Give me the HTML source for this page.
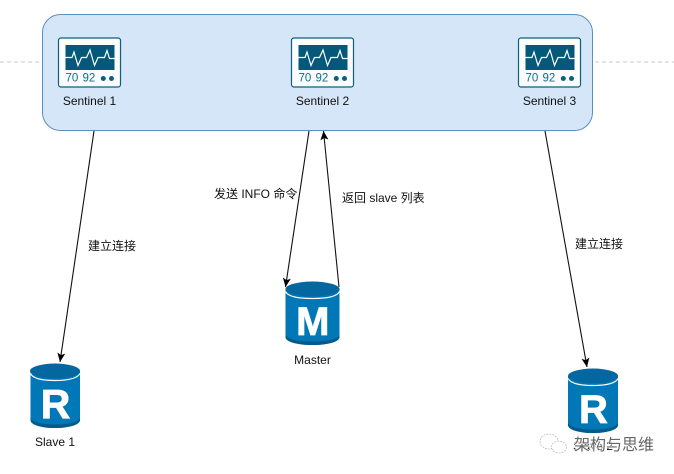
<!DOCTYPE html>
<html>
<head>
<meta charset="utf-8">
<style>
html,body{margin:0;padding:0;background:#fff;width:674px;height:474px;overflow:hidden}
svg{display:block}
text{font-family:"Liberation Sans","Noto Sans CJK SC",sans-serif;font-size:12px;fill:#111}
.n{font-size:11.5px;fill:#0e6f8e}
.c{text-anchor:middle}
.b{font-weight:bold;fill:#fff;stroke:#fff;stroke-width:.8px}
</style>
</head>
<body>
<svg width="674" height="474" viewBox="0 0 674 474" xmlns="http://www.w3.org/2000/svg">
<defs>
<marker id="a" markerWidth="11" markerHeight="10" refX="9" refY="4" orient="auto" markerUnits="userSpaceOnUse">
<path d="M0 0L9 4L0 8L2 4Z" fill="#000"/>
</marker>
<g id="mon">
<rect x="0" y="0" width="62" height="49" rx="2.5" fill="#fafcfd" stroke="#0b5f7f" stroke-width="1.2"/>
<rect x="7" y="7" width="49" height="25" fill="#04587a"/>
<path d="M7 19.500H13.500L15.500 14L19.500 27.500L23 19.500H28L31.500 12L36 27.500L39.500 19.500H46L48.500 12.500L51 20.500H56" fill="none" stroke="#fff" stroke-width="1.200"/>
<circle cx="44.800" cy="40.500" r="2.500" fill="#0b5f7f"/>
<circle cx="53" cy="40.500" r="2.500" fill="#0b5f7f"/>
</g>
</defs>

<path d="M0 62H41M595 62H674" stroke="#c8c8c8" stroke-dasharray="4 3" fill="none"/>
<rect x="42.500" y="14.500" width="550" height="116" rx="18" fill="#d4e6f8" stroke="#5b8fbe" stroke-width="1"/>

<use href="#mon" x="58.500" y="38"/>
<text class="n" x="65.500" y="81.500">70</text><text class="n" x="82.500" y="81.500">92</text>
<use href="#mon" x="291.500" y="38"/>
<text class="n" x="298.500" y="81.500">70</text><text class="n" x="315.500" y="81.500">92</text>
<use href="#mon" x="518.500" y="38"/>
<text class="n" x="525.500" y="81.500">70</text><text class="n" x="542.500" y="81.500">92</text>

<text class="c" x="89.500" y="105">Sentinel 1</text>
<text class="c" x="322.500" y="105">Sentinel 2</text>
<text class="c" x="549.500" y="105">Sentinel 3</text>

<g fill="none" stroke="#111" stroke-width="1.100">
<line x1="94" y1="131" x2="60" y2="362" marker-end="url(#a)"/>
<line x1="309" y1="131" x2="285.500" y2="287" marker-end="url(#a)"/>
<line x1="339" y1="287" x2="323.500" y2="131" marker-end="url(#a)"/>
<line x1="545" y1="131" x2="587" y2="367" marker-end="url(#a)"/>
</g>

<text x="88" y="250">建立连接</text>
<text x="214" y="198">发送 INFO 命令</text>
<text x="342" y="202">返回 slave 列表</text>
<text x="575" y="248">建立连接</text>

<!-- Slave 1 -->
<g>
<path d="M30.500 371V420C30.500 425 42 428 55 428C68 428 80 425 80 420V371Z" fill="#0077b6"/>
<path d="M30.500 417V420C30.500 425 42 428 55 428C68 428 80 425 80 420V417C80 422 68 424.500 55 424.500C42 424.500 30.500 422 30.500 417Z" fill="#045b8a"/>
<ellipse cx="55" cy="371" rx="25" ry="7.500" fill="#0567a0"/>
<path d="M30.500 373.500C33 379 44 380.500 55 380.500C66 380.500 77 379 80 373.500" fill="none" stroke="#fff" stroke-width="1.200"/>
<text class="c b" x="55.500" y="418" style="font-size:41px">R</text>
</g>
<text class="c" x="55" y="446">Slave 1</text>

<!-- Master -->
<g>
<path d="M285.500 289V337C285.500 342 298 345 312.500 345C327 345 339.500 342 339.500 337V289Z" fill="#0077b6"/>
<path d="M285.500 334V337C285.500 342 298 345 312.500 345C327 345 339.500 342 339.500 337V334C339.500 339 327 341.500 312.500 341.500C298 341.500 285.500 339 285.500 334Z" fill="#045b8a"/>
<ellipse cx="312.500" cy="289" rx="27" ry="7.500" fill="#0567a0"/>
<path d="M285.500 291.500C288 297 300 298.500 312.500 298.500C325 298.500 337 297 339.500 291.500" fill="none" stroke="#fff" stroke-width="1.200"/>
<text class="c b" x="312.800" y="335" style="font-size:40px">M</text>
</g>
<text class="c" x="312.500" y="364">Master</text>

<!-- Slave 2 -->
<g>
<path d="M568 376V425C568 430 580 433 593 433C606 433 618 430 618 425V376Z" fill="#0077b6"/>
<path d="M568 422V425C568 430 580 433 593 433C606 433 618 430 618 425V422C618 427 606 429.500 593 429.500C580 429.500 568 427 568 422Z" fill="#045b8a"/>
<ellipse cx="593" cy="376" rx="25" ry="7.500" fill="#0567a0"/>
<path d="M568 378.500C571 384 582 385.500 593 385.500C604 385.500 615 384 618 378.500" fill="none" stroke="#fff" stroke-width="1.200"/>
<text class="c b" x="593.500" y="423" style="font-size:40px">R</text>
</g>
<text class="c" x="593" y="450">Slave 2</text>

<!-- Watermark -->
<g fill="#fff" stroke="#a8a8a8" stroke-width="0.600" stroke-dasharray="2 1">
<ellipse cx="549" cy="441.500" rx="9" ry="7.500"/>
<ellipse cx="559" cy="447" rx="7.500" ry="6"/>
</g>
<text x="574" y="450" style="font-size:16px;fill:#666;stroke:#fff;stroke-width:1.200px;paint-order:stroke">架构与思维</text>
</svg>
</body>
</html>
